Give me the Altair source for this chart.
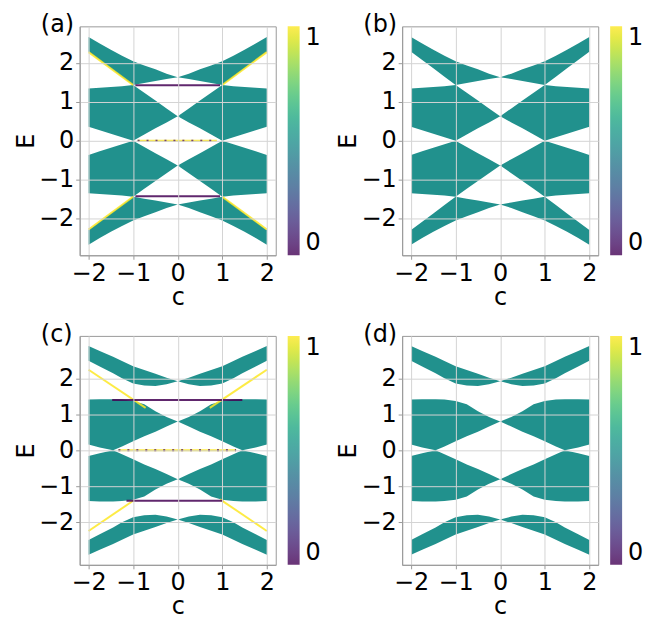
import altair as alt
import pandas as pd

# ---------------- data ----------------
# panels (a) and (b): band edges E(c)
C_AB = [-2.0, -1.75, -1.5, -1.25, -1.0, -0.75, -0.5, -0.25, 0.0,
        0.25, 0.5, 0.75, 1.0, 1.25, 1.5, 1.75, 2.0]
AB_TOP_HI = [2.66, 2.49, 2.33, 2.18, 2.04, 1.93, 1.83, 1.72, 1.63,
             1.72, 1.83, 1.93, 2.04, 2.18, 2.33, 2.49, 2.66]
AB_TOP_LO = [2.28, 2.07, 1.86, 1.64, 1.43, 1.48, 1.53, 1.58, 1.63,
             1.58, 1.53, 1.48, 1.43, 1.64, 1.86, 2.07, 2.28]
AB_MID_HI = [1.34, 1.36, 1.38, 1.40, 1.43, 1.23, 1.03, 0.83, 0.63,
             0.83, 1.03, 1.23, 1.43, 1.40, 1.38, 1.36, 1.34]
AB_MID_LO = [0.36, 0.27, 0.18, 0.09, 0.00, 0.16, 0.32, 0.47, 0.63,
             0.47, 0.32, 0.16, 0.00, 0.09, 0.18, 0.27, 0.36]
AB_NEG_HI = [-0.36, -0.27, -0.18, -0.09, 0.00, -0.16, -0.32, -0.47, -0.63,
             -0.47, -0.32, -0.16, 0.00, -0.09, -0.18, -0.27, -0.36]
AB_NEG_LO = [-1.34, -1.36, -1.38, -1.40, -1.43, -1.23, -1.03, -0.83, -0.63,
             -0.83, -1.03, -1.23, -1.43, -1.40, -1.38, -1.36, -1.34]
AB_BOT_HI = [-2.28, -2.07, -1.86, -1.64, -1.43, -1.48, -1.53, -1.58, -1.63,
             -1.58, -1.53, -1.48, -1.43, -1.64, -1.86, -2.07, -2.28]
AB_BOT_LO = [-2.66, -2.49, -2.33, -2.18, -2.04, -1.93, -1.83, -1.72, -1.63,
             -1.72, -1.83, -1.93, -2.04, -2.18, -2.33, -2.49, -2.66]

# panels (c) and (d): band edges E(c)
C_CD = [-2.0, -1.75, -1.45, -1.25, -1.0, -0.75, -0.5, -0.25, 0.0,
        0.25, 0.5, 0.75, 1.0, 1.25, 1.45, 1.75, 2.0]
CD_TOP_HI = [2.90, 2.76, 2.60, 2.48, 2.34, 2.23, 2.13, 2.02, 1.92,
             2.02, 2.13, 2.23, 2.34, 2.48, 2.60, 2.76, 2.90]
CD_TOP_LO = [2.49, 2.33, 2.14, 2.00, 1.86, 1.80, 1.79, 1.84, 1.92,
             1.84, 1.79, 1.80, 1.86, 2.00, 2.14, 2.33, 2.49]
CD_MID_HI = [1.41, 1.42, 1.42, 1.41, 1.37, 1.28, 1.09, 0.93, 0.80,
             0.93, 1.09, 1.28, 1.37, 1.41, 1.42, 1.42, 1.41]
CD_MID_LO = [0.16, 0.08, 0.00, 0.11, 0.25, 0.39, 0.52, 0.66, 0.80,
             0.66, 0.52, 0.39, 0.25, 0.11, 0.00, 0.08, 0.16]
CD_NEG_HI = [-0.16, -0.08, 0.00, -0.11, -0.25, -0.39, -0.52, -0.66, -0.80,
             -0.66, -0.52, -0.39, -0.25, -0.11, 0.00, -0.08, -0.16]
CD_NEG_LO = [-1.41, -1.42, -1.42, -1.41, -1.37, -1.28, -1.09, -0.93, -0.80,
             -0.93, -1.09, -1.28, -1.37, -1.41, -1.42, -1.42, -1.41]
CD_BOT_HI = [-2.49, -2.33, -2.14, -2.00, -1.86, -1.80, -1.79, -1.84, -1.92,
             -1.84, -1.79, -1.80, -1.86, -2.00, -2.14, -2.33, -2.49]
CD_BOT_LO = [-2.90, -2.76, -2.60, -2.48, -2.34, -2.23, -2.13, -2.02, -1.92,
             -2.02, -2.13, -2.23, -2.34, -2.48, -2.60, -2.76, -2.90]

BAND_WEIGHT = 0.5  # colour value of bulk states

# edge-state segments: start/end c, start/end E, colour value
A_SEG_C1 = [-2.0, 1.0, -2.0, 1.0, -0.95, -0.95, -0.90]
A_SEG_C2 = [-1.0, 2.0, -1.0, 2.0, 0.95, 0.95, 0.88]
A_SEG_E1 = [2.27, 1.43, -2.27, -1.43, 1.42, -1.42, 0.0]
A_SEG_E2 = [1.43, 2.27, -1.43, -2.27, 1.42, -1.42, 0.0]
A_SEG_W = [1, 1, 1, 1, 0, 0, 1]
A_ZERO_MIX = [-0.90, 0.88]   # purple dots mixed into the E=0 line

C_SEG_C1 = [-2.0, 0.72, -2.0, 0.95, -1.47, -1.15, -1.33]
C_SEG_C2 = [-0.72, 2.0, -1.0, 2.0, 1.45, 1.02, 1.31]
C_SEG_E1 = [2.24, 1.18, -2.24, -1.36, 1.40, -1.40, 0.0]
C_SEG_E2 = [1.18, 2.24, -1.40, -2.24, 1.40, -1.40, 0.0]
C_SEG_W = [1, 1, 1, 1, 0, 0, 1]
C_ZERO_MIX = [-1.33, 1.31]

PANEL_LABELS = ["(a)", "(b)", "(c)", "(d)"]
TICKS = [-2, -1, 0, 1, 2]
CBAR_TICKS = [0, 1]

FONT = "DejaVu Sans"
FS = 24
PW, PH = 197, 230


def bands_frame(cs, edges):
    rows = []
    for name, (lo, hi) in edges.items():
        for c, l, h in zip(cs, lo, hi):
            rows.append({"c": c, "lo": l, "hi": h, "band": name, "w": BAND_WEIGHT})
    return pd.DataFrame(rows)


BANDS_AB = bands_frame(C_AB, {
    "top": (AB_TOP_LO, AB_TOP_HI), "mid": (AB_MID_LO, AB_MID_HI),
    "neg": (AB_NEG_LO, AB_NEG_HI), "bot": (AB_BOT_LO, AB_BOT_HI)})
BANDS_CD = bands_frame(C_CD, {
    "top": (CD_TOP_LO, CD_TOP_HI), "mid": (CD_MID_LO, CD_MID_HI),
    "neg": (CD_NEG_LO, CD_NEG_HI), "bot": (CD_BOT_LO, CD_BOT_HI)})

SEG_A = pd.DataFrame({"c1": A_SEG_C1, "c2": A_SEG_C2, "e1": A_SEG_E1,
                      "e2": A_SEG_E2, "v": A_SEG_W})
SEG_C = pd.DataFrame({"c1": C_SEG_C1, "c2": C_SEG_C2, "e1": C_SEG_E1,
                      "e2": C_SEG_E2, "v": C_SEG_W})
MIX_A = pd.DataFrame({"c1": [A_ZERO_MIX[0]], "c2": [A_ZERO_MIX[1]],
                      "e1": [0.0], "e2": [0.0], "v": [0]})
MIX_C = pd.DataFrame({"c1": [C_ZERO_MIX[0]], "c2": [C_ZERO_MIX[1]],
                      "e1": [0.0], "e2": [0.0], "v": [0]})

LEGEND = alt.Legend(
    title=None, type="gradient", values=CBAR_TICKS, format="d",
    direction="vertical", orient="right",
    gradientLength=PH, gradientThickness=12, gradientStrokeWidth=0,
    gradientOpacity=0.8, offset=12, padding=0, labelFontSize=FS,
    labelFont=FONT, labelColor="black", labelOffset=6)


def cscale():
    return alt.Scale(scheme="viridis", domain=[0, 1])


def panel(label, bands, segs, mix, ydom):
    xs = alt.Scale(domain=[-2.2, 2.2], nice=False, zero=False)
    ys = alt.Scale(domain=ydom, nice=False, zero=False)
    xax = alt.Axis(values=TICKS, title="c", zindex=1)
    yax = alt.Axis(values=TICKS, title="E", zindex=1)
    area = alt.Chart(bands).mark_area(interpolate="linear", opacity=1).encode(
        x=alt.X("c:Q", scale=xs, axis=xax),
        y=alt.Y("lo:Q", scale=ys, axis=yax),
        y2="hi:Q",
        detail="band:N",
        color=alt.Color("w:Q", scale=cscale(), legend=LEGEND),
    )
    layers = [area]
    if segs is not None:
        layers.append(alt.Chart(segs).mark_rule(strokeWidth=2, opacity=0.85).encode(
            x="c1:Q", x2="c2:Q", y="e1:Q", y2="e2:Q",
            color=alt.Color("v:Q", scale=cscale(), legend=None)))
        layers.append(alt.Chart(mix).mark_rule(strokeWidth=2, opacity=0.85,
                                               strokeDash=[2, 7]).encode(
            x="c1:Q", x2="c2:Q", y="e1:Q", y2="e2:Q",
            color=alt.Color("v:Q", scale=cscale(), legend=None)))
    lab = alt.Chart(pd.DataFrame({"t": [label]})).mark_text(
        font=FONT, fontSize=FS, align="left", baseline="top", color="black"
    ).encode(text="t:N", x=alt.value(-39), y=alt.value(-13))
    layers.append(lab)
    return alt.layer(*layers).resolve_scale(color="independent").properties(
        width=PW, height=PH)


pa = panel(PANEL_LABELS[0], BANDS_AB, SEG_A, MIX_A, [-2.93, 2.93])
pb = panel(PANEL_LABELS[1], BANDS_AB, None, None, [-2.93, 2.93])
pc = panel(PANEL_LABELS[2], BANDS_CD, SEG_C, MIX_C, [-3.18, 3.18])
pd_ = panel(PANEL_LABELS[3], BANDS_CD, None, None, [-3.18, 3.18])

row1 = alt.hconcat(pa, pb, spacing=14).resolve_scale(color="independent").resolve_legend(color="independent")
row2 = alt.hconcat(pc, pd_, spacing=14).resolve_scale(color="independent").resolve_legend(color="independent")

chart = alt.vconcat(row1, row2, spacing=12).resolve_scale(
    color="independent").resolve_legend(color="independent").properties(
    padding={"left": 6, "top": 3, "right": 0, "bottom": 0}
).configure_axis(
    labelFont=FONT, titleFont=FONT, labelFontSize=FS, titleFontSize=FS,
    titleFontWeight="normal", labelColor="black", titleColor="black",
    gridColor="#d4d4d4", gridWidth=1, domainColor="#9a9a9a", tickColor="#9a9a9a",
    tickSize=4, labelPadding=2, titlePadding=0,
).configure_view(stroke="#9a9a9a", strokeWidth=1)

chart.save("out.html", embed_options={"renderer": "svg", "actions": False})
